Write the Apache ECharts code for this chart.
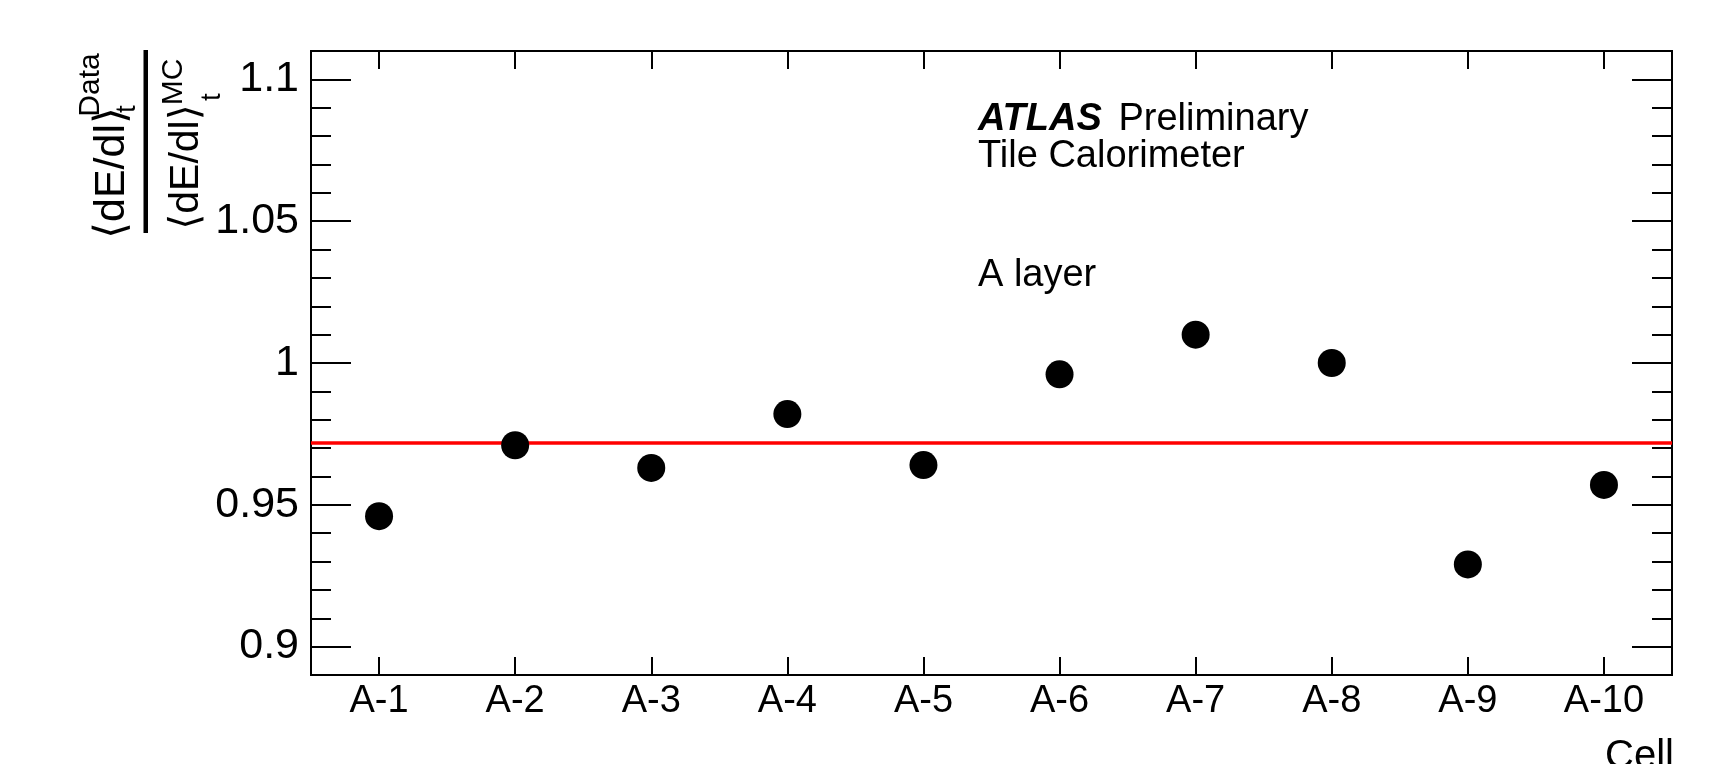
<!DOCTYPE html>
<html>
<head>
<meta charset="utf-8">
<script src="https://cdn.jsdelivr.net/npm/echarts@6/dist/echarts.min.js"></script>
<style>html,body{margin:0;padding:0;background:#fff}#c{width:1723px;height:764px}</style>
</head>
<body>
<div id="c"></div>
<script>
const categories = ['A-1','A-2','A-3','A-4','A-5','A-6','A-7','A-8','A-9','A-10'];
const ratioValues = [0.946, 0.971, 0.963, 0.982, 0.964, 0.996, 1.010, 1.000, 0.929, 0.957];
const meanRatio = 0.972;
const yMajorTicks = [0.9, 0.95, 1.0, 1.05, 1.1];
const yMinorTicks = [0.89,0.90,0.91,0.92,0.93,0.94,0.95,0.96,0.97,0.98,0.99,1.00,1.01,1.02,1.03,1.04,1.05,1.06,1.07,1.08,1.09,1.10,1.11];
const yMin = 0.89, yMax = 1.11;

const FONT = '"Liberation Sans", Arial, Helvetica, "DejaVu Sans", sans-serif';
const BLACK = '#000';

function yAx(pos, major, labels) {
  return {
    type: 'value', min: yMin, max: yMax, position: pos,
    axisLine: { show: true, onZero: false, lineStyle: { color: BLACK, width: 2 } },
    axisTick: { show: true, inside: true, length: major ? 40 : 20,
                customValues: major ? yMajorTicks : yMinorTicks,
                lineStyle: { color: BLACK, width: 2 } },
    axisLabel: labels ? { show: true, customValues: yMajorTicks, fontSize: 43, color: BLACK,
                fontFamily: FONT, margin: 12,
                formatter: v => String(parseFloat(v.toFixed(3))) } : { show: false },
    splitLine: { show: false }
  };
}
function xAx(pos, labels) {
  return {
    type: 'category', data: categories, position: pos, boundaryGap: true,
    axisLine: { show: true, onZero: false, lineStyle: { color: BLACK, width: 2 } },
    axisTick: { show: true, inside: true, alignWithLabel: true, length: 18,
                lineStyle: { color: BLACK, width: 2 } },
    axisLabel: labels ? { show: true, fontSize: 38, color: BLACK, fontFamily: FONT, margin: 8, interval: 0 } : { show: false },
    splitLine: { show: false }
  };
}
function rt(text, x, y, fs) {
  return {
    type: 'text', x: x, y: y, rotation: Math.PI / 2,
    style: { text: text, fontSize: fs, fontFamily: FONT, fill: BLACK, align: 'center', verticalAlign: 'middle' }
  };
}

const chart = echarts.init(document.getElementById('c'), null, { renderer: 'canvas' });
chart.setOption({
  animation: false,
  backgroundColor: '#fff',
  grid: { left: 311, right: 51, top: 51, bottom: 89, containLabel: false },
  xAxis: [xAx('bottom', true), xAx('top', false)],
  yAxis: [yAx('left', true, true), yAx('left', false, false), yAx('right', true, false), yAx('right', false, false)],
  series: [{
    type: 'scatter', xAxisIndex: 0, yAxisIndex: 0,
    data: ratioValues, symbol: 'circle', symbolSize: 28,
    itemStyle: { color: BLACK, opacity: 1 }, z: 5,
    markLine: {
      silent: true, symbol: ['none', 'none'], label: { show: false }, precision: 4,
      lineStyle: { color: '#ff0000', width: 3.5, type: 'solid', opacity: 1 },
      emphasis: { disabled: true },
      data: [{ yAxis: meanRatio }]
    }
  }],
  graphic: [
    rt('\u27E8dE/dl\u27E9', 112, 173, 43),
    rt('Data', 91, 85, 30),
    rt('t', 127, 109, 28),
    { type: 'rect', shape: { x: 143.5, y: 50, width: 4.5, height: 183 }, style: { fill: BLACK } },
    rt('\u27E8dE/dl\u27E9', 187, 167, 41),
    rt('MC', 174, 82, 30),
    rt('t', 212, 97, 28),
    { type: 'text', x: 978, y: 119.5, style: {
        text: '{b|ATLAS}{r| Preliminary}', verticalAlign: 'middle', align: 'left',
        rich: { b: { fontSize: 38, fontWeight: 'bold', fontStyle: 'italic', fontFamily: FONT, fill: BLACK, padding: [0, 6, 0, 0] },
                r: { fontSize: 38, fontFamily: FONT, fill: BLACK } } } },
    { type: 'text', x: 978, y: 156.5, style: { text: 'Tile Calorimeter', fontSize: 38, fontFamily: FONT, fill: BLACK, verticalAlign: 'middle', align: 'left' } },
    { type: 'text', x: 978, y: 276, style: { text: 'A layer', fontSize: 38, fontFamily: FONT, fill: BLACK, verticalAlign: 'middle', align: 'left' } },
    { type: 'text', x: 1674, y: 757, style: { text: 'Cell', fontSize: 40, fontFamily: FONT, fill: BLACK, verticalAlign: 'middle', align: 'right' } }
  ]
});
</script>
</body>
</html>
